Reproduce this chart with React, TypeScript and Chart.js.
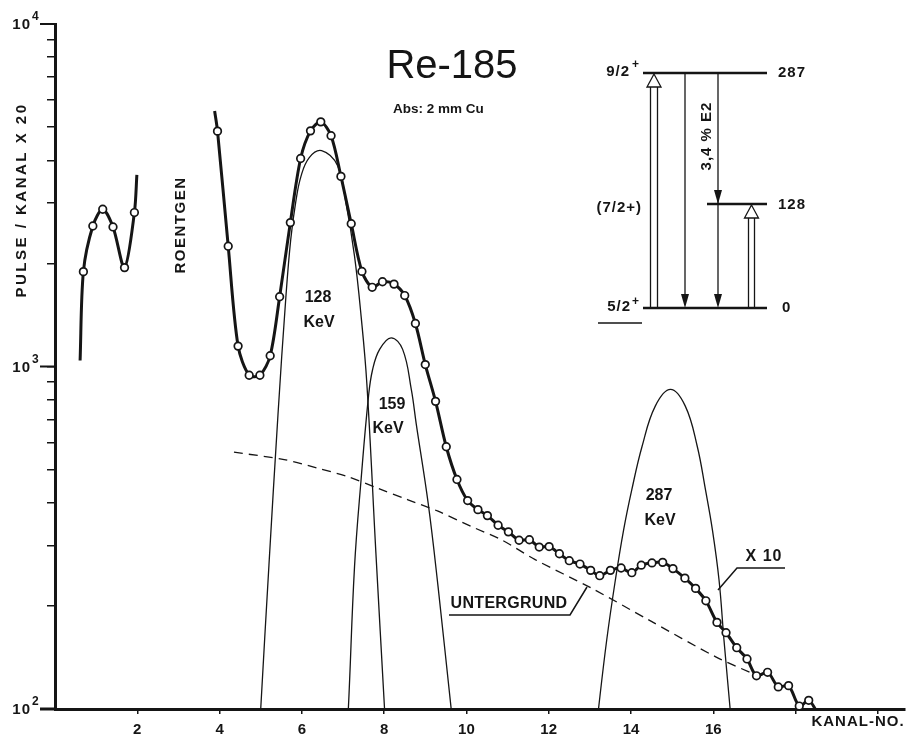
import React, { useEffect, useRef } from 'react';
import { Chart, registerables } from 'chart.js';
Chart.register(...registerables);

// ---- data ----
const leftX = [0.61, 0.69, 0.92, 1.16, 1.41, 1.69, 1.93, 1.99];
const leftY = [1041, 1892, 2572, 2878, 2555, 1944, 2815, 3627];

const mainX = [3.88, 3.95, 4.21, 4.45, 4.72, 4.98, 5.23, 5.46, 5.72, 5.97, 6.21, 6.46, 6.71, 6.95, 7.20, 7.46, 7.71, 7.96, 8.24, 8.50, 8.76, 9.00, 9.25, 9.51, 9.77, 10.03, 10.28, 10.51, 10.77, 11.02, 11.28, 11.53, 11.77, 12.01, 12.26, 12.50, 12.76, 13.02, 13.24, 13.50, 13.76, 14.02, 14.25, 14.51, 14.77, 15.02, 15.31, 15.57, 15.82, 16.09, 16.31, 16.57, 16.82, 17.05, 17.32, 17.58, 17.83, 18.09, 18.32, 18.50];
const mainY = [5570, 4866, 2245, 1147, 943, 943, 1075, 1599, 2631, 4048, 4875, 5179, 4720, 3590, 2612, 1895, 1703, 1768, 1740, 1611, 1335, 1013, 791, 583, 468, 406, 382, 367, 344, 329, 311, 312, 297, 298, 284, 271, 265, 254, 245, 254, 258, 250, 263, 267, 268, 257, 241, 225, 207, 179, 167, 151, 140, 125, 128, 116, 117, 102, 106, 99];

const peak128X = [4.90, 5.00, 5.20, 5.42, 5.61, 5.73, 5.85, 5.98, 6.18, 6.48, 6.87, 7.07, 7.28, 7.44, 7.58, 7.80, 8.01, 8.10];
const peak128Y = [60, 100, 263, 724, 1585, 2350, 3013, 3597, 4074, 4266, 3855, 3013, 2099, 1403, 891, 285, 100, 63];

const peak159X = [7.05, 7.13, 7.28, 7.44, 7.62, 7.72, 7.89, 8.17, 8.45, 8.66, 8.78, 9.07, 9.31, 9.63, 9.70];
const peak159Y = [70, 100, 260, 468, 818, 980, 1122, 1213, 1122, 857, 680, 399, 228, 100, 85];

const peak287X = [13.10, 13.21, 13.41, 13.62, 13.82, 14.02, 14.27, 14.59, 14.96, 15.32, 15.61, 15.81, 15.98, 16.14, 16.26, 16.41, 16.50];
const peak287Y = [75, 100, 159, 238, 333, 437, 585, 766, 857, 766, 585, 437, 333, 238, 159, 100, 75];

const bgX = [4.35, 5.57, 6.38, 7.11, 7.85, 8.58, 9.31, 10.12, 10.85, 11.67, 13.05, 14.43, 16.06, 16.95];
const bgY = [562, 535, 505, 477, 441, 408, 378, 341, 312, 273, 225, 182, 142, 127];

const xTickValues = [2, 4, 6, 8, 10, 12, 14, 16, 18, 20];
const xTickLabelMax = 16;
const yTickValues = [100, 200, 300, 400, 500, 600, 700, 800, 900, 1000, 2000, 3000, 4000, 5000, 6000, 7000, 8000, 9000, 10000];
const yMajorPowers = [2, 3, 4];

const FONT = "'Liberation Sans', Arial, sans-serif";
const INK = '#151515';

const pts = (xs: number[], ys: number[]) => xs.map((x, i) => ({ x, y: ys[i] }));

function line(ctx: CanvasRenderingContext2D, x1: number, y1: number, x2: number, y2: number) {
  ctx.beginPath();
  ctx.moveTo(x1, y1);
  ctx.lineTo(x2, y2);
  ctx.stroke();
}

function txt(ctx: CanvasRenderingContext2D, s: string, x: number, y: number, font: string, align: CanvasTextAlign = 'center', spacing = 0, rot = 0) {
  ctx.save();
  ctx.translate(x, y);
  if (rot) ctx.rotate(rot);
  ctx.font = font;
  (ctx as any).letterSpacing = spacing + 'px';
  ctx.textAlign = align;
  ctx.textBaseline = 'middle';
  ctx.fillText(s, 0, 0);
  ctx.restore();
}

function arrowTipDown(ctx: CanvasRenderingContext2D, x: number, y: number) {
  ctx.beginPath();
  ctx.moveTo(x, y);
  ctx.lineTo(x - 4, y - 14);
  ctx.lineTo(x + 4, y - 14);
  ctx.closePath();
  ctx.fill();
}

function openArrowUp(ctx: CanvasRenderingContext2D, x1: number, x2: number, yFrom: number, yApex: number) {
  const xc = (x1 + x2) / 2;
  const base = yApex + 13;
  line(ctx, x1, yFrom, x1, base);
  line(ctx, x2, yFrom, x2, base);
  ctx.beginPath();
  ctx.moveTo(xc, yApex);
  ctx.lineTo(xc - 7, base);
  ctx.lineTo(xc + 7, base);
  ctx.closePath();
  ctx.stroke();
}

const annotations = {
  id: 'annotations',
  afterDraw(chart: any) {
    const ctx: CanvasRenderingContext2D = chart.ctx;
    const { left, bottom } = chart.chartArea;
    const ys = chart.scales.y;
    ctx.save();
    ctx.fillStyle = INK;
    ctx.strokeStyle = INK;

    // x axis extension to the left of the y axis
    ctx.lineWidth = 3;
    line(ctx, 40, bottom, left, bottom);

    // major y ticks and labels
    for (const p of yMajorPowers) {
      const y = ys.getPixelForValue(Math.pow(10, p));
      ctx.lineWidth = 2;
      line(ctx, left - 15, y, left, y);
      txt(ctx, '10', 31, y + 1, `bold 15px ${FONT}`, 'right', 1);
      txt(ctx, String(p), 32, y - 7, `bold 12px ${FONT}`, 'left');
    }

    // axis titles
    txt(ctx, 'PULSE / KANAL X 20', 22, 200, `bold 15px ${FONT}`, 'center', 2.5, -Math.PI / 2);
    txt(ctx, 'KANAL-NO.', 858, 722, `bold 15px ${FONT}`, 'center', 1);
    txt(ctx, 'ROENTGEN', 181, 225, `bold 15px ${FONT}`, 'center', 1.5, -Math.PI / 2);

    // title
    txt(ctx, 'Re-185', 452, 67, `40px ${FONT}`, 'center');
    txt(ctx, 'Abs: 2 mm Cu', 393, 109, `bold 13.5px ${FONT}`, 'left');

    // peak labels
    const lf = `bold 16px ${FONT}`;
    txt(ctx, '128', 318, 298, lf);
    txt(ctx, 'KeV', 319, 323, lf);
    txt(ctx, '159', 392, 405, lf);
    txt(ctx, 'KeV', 388, 429, lf);
    txt(ctx, '287', 659, 496, lf);
    txt(ctx, 'KeV', 660, 521, lf);

    // UNTERGRUND label with leader
    txt(ctx, 'UNTERGRUND', 509, 604, lf, 'center', 0.3);
    ctx.lineWidth = 1.5;
    ctx.beginPath();
    ctx.moveTo(449, 615);
    ctx.lineTo(570, 615);
    ctx.lineTo(587, 587);
    ctx.stroke();

    // X 10 label with leader
    txt(ctx, 'X 10', 764, 557, lf, 'center', 1);
    ctx.beginPath();
    ctx.moveTo(718, 590);
    ctx.lineTo(737, 568);
    ctx.lineTo(785, 568);
    ctx.stroke();

    // level scheme
    ctx.lineWidth = 2.5;
    line(ctx, 643, 73, 767, 73);
    line(ctx, 707, 204, 767, 204);
    line(ctx, 643, 308, 767, 308);
    ctx.lineWidth = 1.3;
    openArrowUp(ctx, 650.5, 657.5, 308, 74);
    line(ctx, 685, 73, 685, 300);
    arrowTipDown(ctx, 685, 308);
    line(ctx, 718, 73, 718, 300);
    arrowTipDown(ctx, 718, 204);
    arrowTipDown(ctx, 718, 308);
    openArrowUp(ctx, 748.5, 754.5, 308, 205);

    const sf = `bold 15px ${FONT}`;
    txt(ctx, '9/2', 630, 72, sf, 'right', 1);
    txt(ctx, '+', 632, 65, `bold 12px ${FONT}`, 'left');
    txt(ctx, '287', 778, 73, sf, 'left', 1);
    txt(ctx, '128', 778, 205, sf, 'left', 1);
    txt(ctx, '0', 782, 308, sf, 'left');
    txt(ctx, '(7/2+)', 642, 208, sf, 'right', 1);
    txt(ctx, '5/2', 631, 307, sf, 'right', 1);
    txt(ctx, '+', 632, 302, `bold 12px ${FONT}`, 'left');
    ctx.lineWidth = 1.5;
    line(ctx, 598, 323, 642, 323);
    txt(ctx, '3,4 % E2', 707, 136, sf, 'center', 1, -Math.PI / 2);

    ctx.restore();
  },
};

export default function App() {
  const ref = useRef<HTMLCanvasElement | null>(null);

  useEffect(() => {
    if (!ref.current) return;
    const endsHidden = (n: number) => (c: any) => (c.dataIndex === 0 || c.dataIndex === n - 1 ? 0 : 3.8);
    const thick = (xs: number[], ys: number[]) => ({
      data: pts(xs, ys),
      borderColor: INK,
      borderWidth: 3,
      pointRadius: endsHidden(xs.length),
      pointHoverRadius: 0,
      pointBackgroundColor: '#fff',
      pointBorderColor: INK,
      pointBorderWidth: 1.7,
      tension: 0.3,
    });
    const thin = (xs: number[], ys: number[]) => ({
      data: pts(xs, ys),
      borderColor: INK,
      borderWidth: 1.3,
      pointRadius: 0,
      tension: 0.4,
    });
    const chart = new Chart(ref.current, {
      type: 'line',
      data: {
        datasets: [
          thick(leftX, leftY) as any,
          thick(mainX, mainY) as any,
          thin(peak128X, peak128Y) as any,
          thin(peak159X, peak159Y) as any,
          thin(peak287X, peak287Y) as any,
          { ...thin(bgX, bgY), borderDash: [9, 6], tension: 0.3 } as any,
        ],
      },
      options: {
        animation: false,
        responsive: false,
        devicePixelRatio: 1,
        layout: { padding: { left: 0, top: 24, right: 4, bottom: 0 } },
        plugins: { legend: { display: false }, tooltip: { enabled: false }, title: { display: false } },
        events: [],
        scales: {
          x: {
            type: 'linear',
            min: 0,
            max: 20.66,
            afterFit: (s: any) => { s.height = 29; },
            afterBuildTicks: (s: any) => { s.ticks = xTickValues.map((v) => ({ value: v })); },
            grid: { drawOnChartArea: false, drawTicks: true, tickLength: 5, color: INK, lineWidth: 1.5 },
            border: { display: true, color: INK, width: 3 },
            ticks: {
              autoSkip: false,
              maxRotation: 0,
              padding: 7,
              color: INK,
              font: { family: FONT, size: 15, weight: 'bold' },
              callback: (v: any) => (Number(v) <= xTickLabelMax ? String(v) : ''),
            },
          },
          y: {
            type: 'logarithmic',
            min: 100,
            max: 10000,
            afterFit: (s: any) => { s.width = 55; },
            afterBuildTicks: (s: any) => { s.ticks = yTickValues.map((v) => ({ value: v })); },
            grid: { drawOnChartArea: false, drawTicks: true, tickLength: 8, color: INK, lineWidth: 1.5 },
            border: { display: true, color: INK, width: 3 },
            ticks: { display: false },
          },
        },
      },
      plugins: [annotations],
    } as any);
    return () => chart.destroy();
  }, []);

  return (
    <div style={{ position: 'fixed', left: 0, top: 0, width: 909, height: 738, background: '#fff' }}>
      <canvas ref={ref} width={909} height={738} style={{ width: 909, height: 738, display: 'block' }} />
    </div>
  );
}
